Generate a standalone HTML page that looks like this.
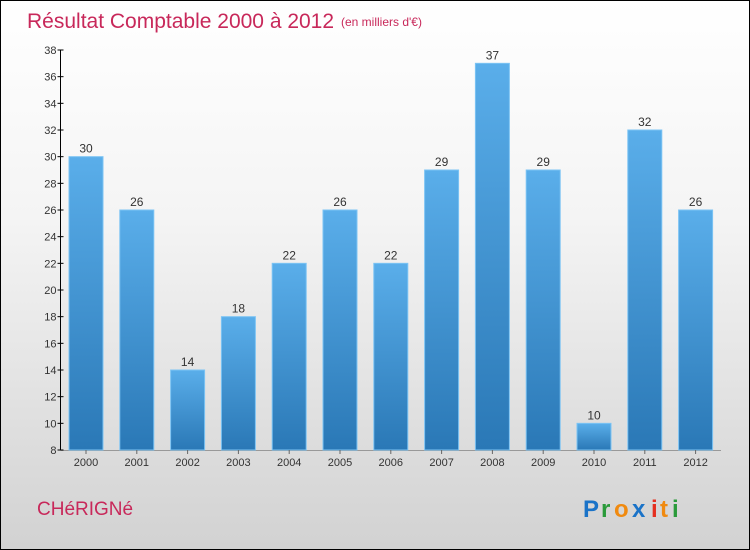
<!DOCTYPE html>
<html><head><meta charset="utf-8"><style>
body{margin:0}
#c{position:relative;width:748px;height:548px;border:1px solid #000;background:linear-gradient(#ffffff 0%,#f4f4f4 40%,#d2d2d2 100%);font-family:"Liberation Sans",sans-serif;overflow:hidden}
</style></head><body>
<div id="c">
<svg id="s" width="748" height="548" style="position:absolute;left:0;top:0">
<defs><linearGradient id="g" x1="0" y1="0" x2="0" y2="1"><stop offset="0" stop-color="#5aaeea"/><stop offset="1" stop-color="#2a78b6"/></linearGradient></defs>
<text x="26" y="27" font-size="21" fill="#c8285a">Résultat Comptable 2000 à 2012</text>
<text x="340" y="25" font-size="12" fill="#c8285a">(en milliers d'€)</text>
<text x="36" y="514" font-size="19" fill="#c8285a">CHéRIGNé</text>
<g font-size="24" font-weight="bold">
<text x="582" y="516" fill="#1a73c8">P</text><text x="600" y="516" fill="#2a9a3a">r</text><text x="613" y="516" fill="#f08a10">o</text><text x="631" y="516" fill="#1a73c8">x</text><text x="650" y="516" fill="#e53020">i</text><text x="659" y="516" fill="#f08a10">t</text><text x="671" y="516" fill="#2a9a3a">i</text>
</g>
</svg>
</div>
<script>
const years=["2000","2001","2002","2003","2004","2005","2006","2007","2008","2009","2010","2011","2012"];
const values=[30,26,14,18,22,26,22,29,37,29,10,32,26];
const yTicks=[8,10,12,14,16,18,20,22,24,26,28,30,32,34,36,38];
const NS="http://www.w3.org/2000/svg",s=document.getElementById('s');
const y0=449,yTop=49,vMin=8,vMax=38;
const yS=v=>y0-(v-vMin)*(y0-yTop)/(vMax-vMin);
const x0=59.5,step=50.8;
const xS=i=>x0+25.5+i*step;
function mk(t,a){const e=document.createElementNS(NS,t);for(const k in a)e.setAttribute(k,a[k]);s.appendChild(e);return e;}
const ax=mk('line',{x1:x0,y1:yTop,x2:x0,y2:y0,stroke:'#000'});


const bx=mk('line',{x1:x0,y1:y0+.5,x2:720,y2:y0+.5,stroke:'#999'});


yTicks.forEach(v=>{
 const t=mk('line',{x1:x0-3,x2:x0+3,y1:yS(v),y2:yS(v),stroke:'#000'});
 
 
 const l=mk('text',{x:x0-4,y:yS(v)+4,'font-size':11,'text-anchor':'end',fill:'#333'});l.textContent=v;
 
 
});
years.forEach((yr,i)=>{
 const cx=xS(i),v=values[i];
 const r=mk('rect',{x:cx-17,y:yS(v),width:34,height:y0-yS(v),fill:'url(#g)',stroke:'#7cc4f4','stroke-width':1});
 
 
 const vl=mk('text',{x:cx,y:yS(v)-4,'font-size':12,'text-anchor':'middle',fill:'#333'});vl.textContent=v;
 
 
 const tk=mk('line',{x1:cx,x2:cx,y1:y0,y2:y0+4,stroke:'#666'});
 
 
 const xl=mk('text',{x:cx,y:y0+16,'font-size':11,'text-anchor':'middle',fill:'#333'});xl.textContent=yr;
 
 
});
</script>
</body></html>
